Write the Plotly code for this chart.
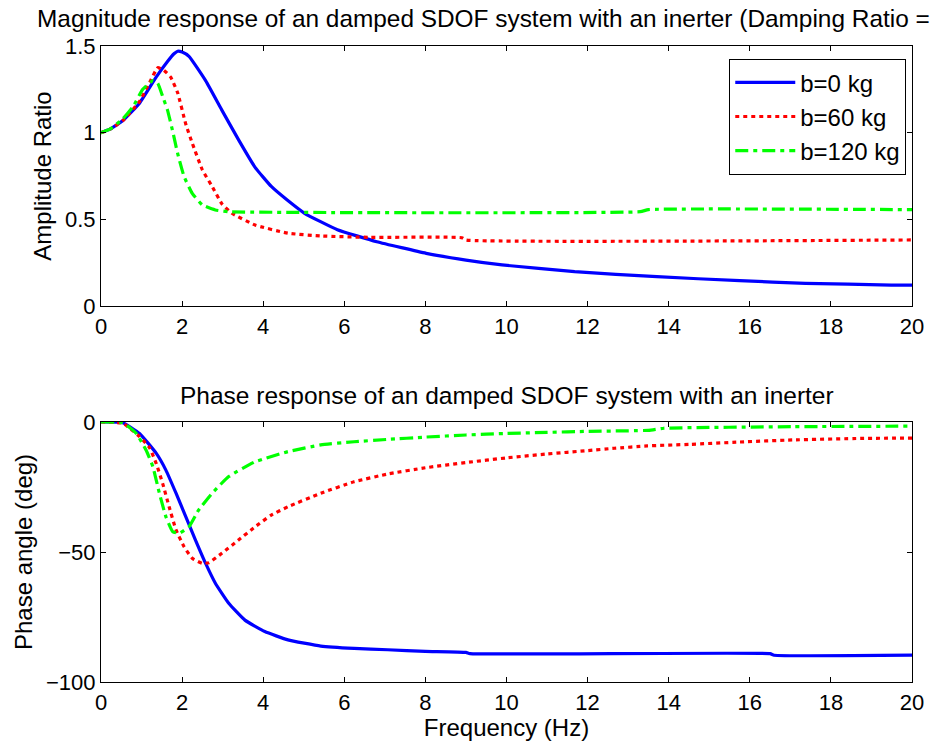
import plotly.graph_objects as go

# ---------------- data ----------------
names = ["b=0 kg", "b=60 kg", "b=120 kg"]

f_mag_b0 = [0, 0.22, 0.54, 0.95, 1.36, 1.64, 1.80, 1.89, 2.0, 2.17, 2.58, 2.98, 3.39, 3.80, 4.20,
            4.60, 5.02, 5.83, 6.80, 8.02, 9.0, 9.89, 11.68, 13.71, 15.75, 17.37, 19.49, 20]
mag_b0 = [1.0, 1.02, 1.07, 1.17, 1.32, 1.41, 1.455, 1.47, 1.465, 1.44, 1.30, 1.13, 0.96, 0.80,
          0.69, 0.61, 0.535, 0.44, 0.371, 0.304, 0.265, 0.237, 0.198, 0.169, 0.146, 0.131,
          0.121, 0.12]

f_mag_b60 = [0, 0.22, 0.54, 0.95, 1.2, 1.40, 1.55, 1.72, 1.89, 2.09, 2.25, 2.5, 2.74, 2.98,
             3.23, 3.80, 4.61, 5.42, 6.64, 8.9, 9.0, 20]
mag_b60 = [1.0, 1.02, 1.07, 1.18, 1.29, 1.375, 1.36, 1.32, 1.23, 1.05, 0.94, 0.785, 0.69, 0.59,
           0.535, 0.467, 0.42, 0.404, 0.396, 0.394, 0.381, 0.381]

f_mag_b120 = [0, 0.22, 0.54, 0.79, 1.03, 1.28, 1.40, 1.52, 1.64, 1.76, 1.89, 2.05, 2.25, 2.5,
              2.82, 3.15, 13.3, 13.5, 20]
mag_b120 = [1.0, 1.02, 1.08, 1.15, 1.25, 1.30, 1.285, 1.21, 1.13, 1.016, 0.88, 0.746, 0.65, 0.583,
            0.554, 0.544, 0.544, 0.556, 0.556]

f_ph_b0 = [0, 0.54, 0.95, 1.36, 1.60, 1.85, 2.09, 2.33, 2.58, 2.82, 3.15, 3.55, 4.04, 4.61,
           5.42, 6.24, 7.07, 8.0, 9.0, 9.1, 16.5, 16.6, 20]
ph_b0 = [0, -0.3, -4.4, -12, -18.5, -27.4, -36.4, -45.4, -54.4, -62, -69.7, -76.2, -80.6, -83.8,
         -86.2, -87.1, -87.6, -88.2, -88.6, -89.1, -89.1, -89.7, -89.7]

f_ph_b60 = [0, 0.54, 0.95, 1.2, 1.36, 1.52, 1.68, 1.85, 2.05, 2.25, 2.5, 2.66, 2.98, 3.39, 3.80,
            4.2, 4.61, 5.42, 6.24, 7.07, 8, 9, 10, 11, 12, 12.66, 13.47, 14.53, 15.75, 17.05,
            18.76, 20]
ph_b60 = [0, -0.5, -5.6, -10, -15.9, -23.6, -32.6, -41.5, -48, -52.4, -54.4, -54.1, -50.5, -45.4,
          -40.3, -35.8, -32.6, -27.4, -23, -20, -17.6, -15.6, -13.8, -12.3, -11, -10.1, -9.2,
          -8.6, -7.7, -6.9, -6.3, -6.2]

f_ph_b120 = [0, 0.54, 0.87, 1.11, 1.28, 1.44, 1.60, 1.77, 1.93, 2.17, 2.41, 2.74, 3.15, 3.80,
             4.61, 5.42, 6.24, 7.07, 8, 9, 10, 11, 12, 13.5, 13.88, 17.05, 20]
ph_b120 = [0, -0.3, -4.4, -10.8, -17.2, -27.4, -36.4, -42.2, -42.8, -40.3, -33.8, -27.4, -21,
           -15.3, -11.4, -8.8, -7.6, -6.7, -5.8, -5.0, -4.4, -4.0, -3.6, -3.2, -2.4, -1.8, -1.6]

x_ticks = [0, 2, 4, 6, 8, 10, 12, 14, 16, 18, 20]
mag_ticks = [0, 0.5, 1, 1.5]
ph_ticks = [-100, -50, 0]

top_title = "Magnitude response of an damped SDOF system with an inerter (Damping Ratio ="
bottom_title = "Phase response of an damped SDOF system with an inerter"

# ---------------- styling ----------------
FONT = "Arial, 'Liberation Sans', Helvetica, sans-serif"
colors = ["#0000FF", "#FF0000", "#00FF00"]
dashes = ["solid", "4px,4px", "13px,5px,4px,5px"]
LW = 3.2

fig = go.Figure()
mag_sets = [(f_mag_b0, mag_b0), (f_mag_b60, mag_b60), (f_mag_b120, mag_b120)]
ph_sets = [(f_ph_b0, ph_b0), (f_ph_b60, ph_b60), (f_ph_b120, ph_b120)]

for i, (fx, fy) in enumerate(mag_sets):
    fig.add_trace(go.Scatter(x=fx, y=fy, mode="lines", name=names[i],
                             line=dict(color=colors[i], width=LW, dash=dashes[i],
                                       shape="spline", smoothing=0.4),
                             xaxis="x", yaxis="y", legendgroup=f"g{i}"))
for i, (fx, fy) in enumerate(ph_sets):
    fig.add_trace(go.Scatter(x=fx, y=fy, mode="lines", name=names[i], showlegend=False,
                             line=dict(color=colors[i], width=LW, dash=dashes[i],
                                       shape="spline", smoothing=0.4),
                             xaxis="x2", yaxis="y2", legendgroup=f"g{i}"))

# plot area pixels: x 101..920, y 46..682
L, R, T, B = 101, 16, 46, 72
H = 754 - T - B
top_dom = [(682 - 306) / H, 1.0]
bot_dom = [0.0, (682 - 422) / H]

axis_common = dict(showline=True, linecolor="black", linewidth=1.2, mirror="ticks",
                   ticks="inside", ticklen=5, tickcolor="black", tickwidth=1.2,
                   showgrid=False, zeroline=False,
                   tickfont=dict(family=FONT, size=22, color="black"))

fig.update_layout(
    width=936, height=754,
    margin=dict(l=L, r=R, t=T, b=B),
    paper_bgcolor="white", plot_bgcolor="white",
    font=dict(family=FONT, color="black"),
    xaxis=dict(domain=[0, 1], anchor="y", range=[0, 20], tickvals=x_ticks, **axis_common),
    yaxis=dict(domain=top_dom, anchor="x", range=[0, 1.5], tickvals=mag_ticks,
               ticktext=["0", "0.5", "1", "1.5"],
               title=dict(text="Amplitude Ratio", font=dict(family=FONT, size=24), standoff=6),
               **axis_common),
    xaxis2=dict(domain=[0, 1], anchor="y2", range=[0, 20], tickvals=x_ticks,
                title=dict(text="Frequency (Hz)", font=dict(family=FONT, size=24), standoff=4),
                **axis_common),
    yaxis2=dict(domain=bot_dom, anchor="x2", range=[-100, 0], tickvals=ph_ticks,
                title=dict(text="Phase angle (deg)", font=dict(family=FONT, size=24), standoff=6),
                **axis_common),
    legend=dict(x=(914 - L) / 819, y=(682 - 59) / H, xanchor="right", yanchor="top",
                bgcolor="white", bordercolor="black", borderwidth=1.2,
                font=dict(family=FONT, size=24, color="black"),
                tracegroupgap=0, itemwidth=60),
    showlegend=True,
    annotations=[
        dict(text=top_title, xref="paper", yref="paper", x=(34 - L) / 819, y=(682 - 18) / H,
             xanchor="left", yanchor="middle", showarrow=False,
             font=dict(family=FONT, size=24.4, color="black")),
        dict(text=bottom_title, xref="paper", yref="paper", x=0.5, y=(682 - 395) / H,
             xanchor="center", yanchor="middle", showarrow=False,
             font=dict(family=FONT, size=24.5, color="black")),
    ],
)

fig.write_html("out.html")
